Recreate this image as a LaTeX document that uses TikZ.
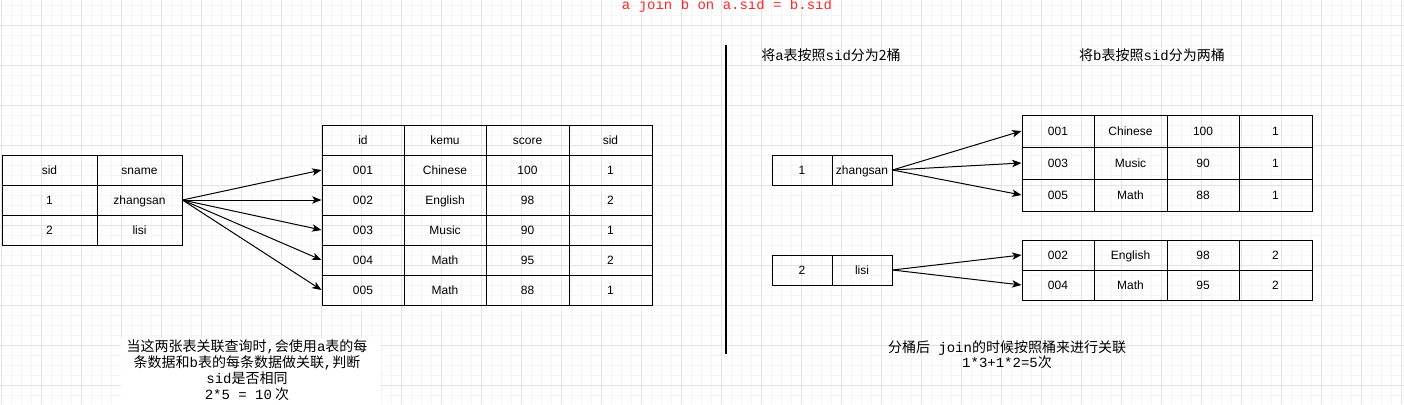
\documentclass[tikz,border=0pt]{standalone}
\usepackage{fontspec}
\setmainfont{Liberation Sans}
\newfontfamily\cjk{Noto Sans CJK SC}
\newfontfamily\monofont{Liberation Mono}
\newcommand{\mono}[1]{{\monofont #1}}
\usetikzlibrary{arrows.meta}

\tikzset{
  cell/.style={draw, line width=0.75pt, inner sep=0pt, text height=8.5pt, text depth=2pt, font=\fontsize{9}{11}\selectfont},
  link/.style={-{Stealth[length=7pt,width=5.5pt,inset=1.8pt]}, line width=0.75pt},
  note/.style={align=center, inner sep=0pt, font=\cjk\fontsize{10.5}{12}\selectfont},
  gridminor/.style={draw=black!4, line width=0.75pt},
  gridmajor/.style={draw=black!11, line width=0.75pt},
}

\begin{document}
\begin{tikzpicture}[x=0.75pt,y=0.75pt,yscale=-1,xscale=1]
        \useasboundingbox (0,0) rectangle (1404,404);
        % background grid
        \foreach \x in {1,11,...,1401} \draw[gridminor] (\x,0) -- (\x,404);
        \foreach \y in {5,15,...,395} \draw[gridminor] (0,\y) -- (1404,\y);
        \foreach \x in {1,41,...,1401} \draw[gridmajor] (\x,0) -- (\x,404);
        \foreach \y in {25,65,...,385} \draw[gridmajor] (0,\y) -- (1404,\y);
        \fill[white] (121,338) rectangle (381,404);

        \node[text=red!85!white, inner sep=0pt, font=\monofont\fontsize{10.5}{12}\selectfont] (title) at (727,6) {a join b on a.sid = b.sid};

        % table a
        \foreach \y/\p/\q [count=\i] in {155/sid/sname, 185/1/zhangsan, 215/2/lisi} {
          \node[cell, minimum width=71.25pt, minimum height=22.5pt] (a\i1) at (49.5,\y+15) {\p};
          \node[cell, minimum width=63.75pt, minimum height=22.5pt] (a\i2) at (139.5,\y+15) {\q};
        }

        % table b
        \foreach \y/\p/\q/\r/\s [count=\i] in {125/id/kemu/score/sid, 155/001/Chinese/100/1, 185/002/English/98/2, 215/003/Music/90/1, 245/004/Math/95/2, 275/005/Math/88/1} {
          \node[cell, minimum width=61.5pt, minimum height=22.5pt] (b\i1) at (363,\y+15) {\p};
          \node[cell, minimum width=61.5pt, minimum height=22.5pt] (b\i2) at (445,\y+15) {\q};
          \node[cell, minimum width=62.25pt, minimum height=22.5pt] (b\i3) at (527.5,\y+15) {\r};
          \node[cell, minimum width=62.25pt, minimum height=22.5pt] (b\i4) at (610.5,\y+15) {\s};
        }

        \foreach \i in {2,...,6} \draw[link] (a22.east) -- (b\i1.west);

        \draw[line width=1.5pt] (726,45) -- (726,354);

        \node[note] (hdra) at (831,55) {将\mono{a}表按照\mono{sid}分为2桶};
        \node[note] (hdrb) at (1152,55) {将\mono{b}表按照\mono{sid}分为两桶};

        % bucket 1
        \node[cell, minimum width=45pt, minimum height=22.5pt] (c1) at (802,170) {1};
        \node[cell, minimum width=45pt, minimum height=22.5pt] (c2) at (862,170) {zhangsan};
        \foreach \y/\p/\q/\r/\s [count=\i] in {115/001/Chinese/100/1, 147/003/Music/90/1, 179/005/Math/88/1} {
          \node[cell, minimum width=54pt, minimum height=24pt] (e\i1) at (1058,\y+16) {\p};
          \node[cell, minimum width=54.75pt, minimum height=24pt] (e\i2) at (1130.5,\y+16) {\q};
          \node[cell, minimum width=54pt, minimum height=24pt] (e\i3) at (1203,\y+16) {\r};
          \node[cell, minimum width=54.75pt, minimum height=24pt] (e\i4) at (1275.5,\y+16) {\s};
        }
        \foreach \i in {1,2,3} \draw[link] (c2.east) -- (e\i1.west);

        % bucket 2
        \node[cell, minimum width=45pt, minimum height=22.5pt] (d1) at (802,270) {2};
        \node[cell, minimum width=45pt, minimum height=22.5pt] (d2) at (862,270) {lisi};
        \foreach \y/\p/\q/\r/\s [count=\i] in {240/002/English/98/2, 270/004/Math/95/2} {
          \node[cell, minimum width=54pt, minimum height=22.5pt] (f\i1) at (1058,\y+15) {\p};
          \node[cell, minimum width=54.75pt, minimum height=22.5pt] (f\i2) at (1130.5,\y+15) {\q};
          \node[cell, minimum width=54pt, minimum height=22.5pt] (f\i3) at (1203,\y+15) {\r};
          \node[cell, minimum width=54.75pt, minimum height=22.5pt] (f\i4) at (1275.5,\y+15) {\s};
        }
        \foreach \i in {1,2} \draw[link] (d2.east) -- (f\i1.west);

        \node[note] (notea) at (247,370) {当这两张表关联查询时\mono{,}会使用\mono{a}表的每\\条数据和\mono{b}表的每条数据做关联\mono{,}判断\\\mono{sid}是否相同\\\mono{2*5 = 10} 次};
        \node[note, font=\cjk\fontsize{10.5}{11.25}\selectfont] (noteb) at (1007,354.5) {分桶后\mono{~join}的时候按照桶来进行关联\\\mono{1*3+1*2=5}次};
\end{tikzpicture}
\end{document}
